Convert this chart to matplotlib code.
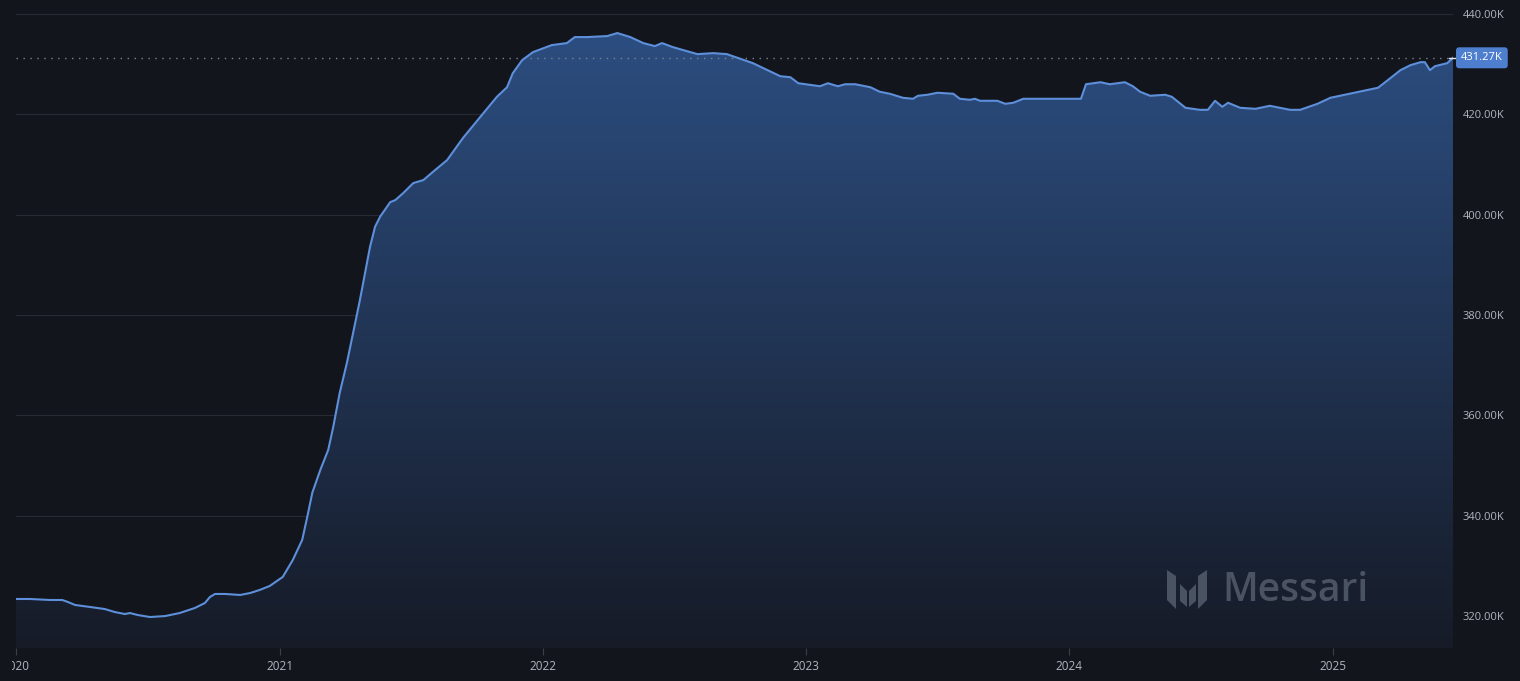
import numpy as np
import pandas as pd
import matplotlib
matplotlib.use("Agg")
import matplotlib.pyplot as plt
import matplotlib.dates as mdates
from matplotlib.colors import LinearSegmentedColormap
from matplotlib.patches import Polygon
from matplotlib.transforms import Bbox, TransformedBbox

# series values (thousands)
dates = [
    "2020-01-01", "2020-01-20", "2020-02-17", "2020-03-05", "2020-03-13", "2020-03-23",
    "2020-04-13", "2020-05-03", "2020-05-17", "2020-05-31", "2020-06-07", "2020-06-18",
    "2020-07-05", "2020-07-26", "2020-08-15", "2020-09-05", "2020-09-19", "2020-09-26",
    "2020-10-03", "2020-10-17", "2020-11-07", "2020-11-21", "2020-12-04", "2020-12-18",
    "2021-01-05", "2021-01-19", "2021-02-01", "2021-02-08", "2021-02-15", "2021-02-26",
    "2021-03-09", "2021-03-16", "2021-03-25", "2021-04-04", "2021-04-22", "2021-05-06",
    "2021-05-13", "2021-05-20", "2021-06-03", "2021-06-10", "2021-06-21", "2021-07-05",
    "2021-07-19", "2021-08-01", "2021-08-21", "2021-09-12", "2021-10-06", "2021-10-29",
    "2021-11-12", "2021-11-20", "2021-12-03", "2021-12-18", "2022-01-13", "2022-02-03",
    "2022-02-14", "2022-03-03", "2022-03-31", "2022-04-14", "2022-05-02", "2022-05-20",
    "2022-06-05", "2022-06-15", "2022-06-30", "2022-08-03", "2022-08-25", "2022-09-13",
    "2022-10-19", "2022-11-26", "2022-12-10", "2022-12-21", "2023-01-20", "2023-01-31",
    "2023-02-14", "2023-02-24", "2023-03-10", "2023-03-31", "2023-04-13", "2023-04-27",
    "2023-05-15", "2023-05-29", "2023-06-05", "2023-06-18", "2023-07-02", "2023-07-24",
    "2023-08-02", "2023-08-16", "2023-08-23", "2023-08-30", "2023-09-23", "2023-10-04",
    "2023-10-15", "2023-10-29", "2023-11-08", "2024-01-17", "2024-01-24", "2024-02-13",
    "2024-02-26", "2024-03-18", "2024-03-29", "2024-04-08", "2024-04-22", "2024-05-13",
    "2024-05-22", "2024-06-10", "2024-06-30", "2024-07-11", "2024-07-21", "2024-07-31",
    "2024-08-08", "2024-08-25", "2024-09-15", "2024-10-05", "2024-11-02", "2024-11-16",
    "2024-12-10", "2024-12-28", "2025-03-04", "2025-03-21", "2025-04-04", "2025-04-18",
    "2025-05-02", "2025-05-08", "2025-05-15", "2025-05-22", "2025-06-08", "2025-06-16",
]
values = [
    323.4, 323.4, 323.2, 323.2, 322.8, 322.2,
    321.8, 321.4, 320.8, 320.4, 320.6, 320.2,
    319.8, 320.0, 320.6, 321.6, 322.6, 323.8,
    324.4, 324.4, 324.2, 324.6, 325.2, 326.0,
    327.8, 331.2, 335.2, 339.8, 344.6, 349.1,
    353.1, 357.7, 364.5, 370.5, 383.0, 393.6,
    397.6, 399.6, 402.5, 402.9, 404.3, 406.3,
    406.9, 408.5, 410.9, 415.3, 419.5, 423.5,
    425.4, 428.2, 430.8, 432.4, 433.8, 434.2,
    435.4, 435.4, 435.6, 436.2, 435.4, 434.2,
    433.6, 434.2, 433.4, 432.0, 432.2, 432.0,
    430.2, 427.6, 427.4, 426.2, 425.6, 426.2,
    425.6, 426.0, 426.0, 425.4, 424.5, 424.1,
    423.3, 423.1, 423.7, 423.9, 424.3, 424.1,
    423.1, 422.9, 423.1, 422.7, 422.7, 422.1,
    422.3, 423.1, 423.1, 423.1, 426.0, 426.4,
    426.0, 426.4, 425.6, 424.5, 423.7, 423.9,
    423.5, 421.3, 420.9, 420.9, 422.7, 421.5,
    422.3, 421.3, 421.1, 421.7, 420.9, 420.9,
    422.1, 423.3, 425.3, 427.2, 428.8, 429.8,
    430.4, 430.4, 428.8, 429.6, 430.2, 431.27,
]
y_ticks = [320, 340, 360, 380, 400, 420, 440]
last_label = "431.27K"

BG = "#13151c"
LINE = "#5d8fda"
GRID = "#262a35"
TXT = "#b2b5be"
FONT = "Open Sans"

x = pd.to_datetime(dates)
y = np.array(values)

W, H = 1520, 681
fig = plt.figure(figsize=(W / 100, H / 100), dpi=100, facecolor=BG)
ax = fig.add_axes([16 / W, 33 / H, 1437 / W, 648 / H])
ax.set_facecolor(BG)

ymin, ymax = 313.63, 442.79
ax.set_xlim(x[0], x[-1])
ax.set_ylim(ymin, ymax)

# gradient fill under the line
cmap = LinearSegmentedColormap.from_list("g", ["#161b27", "#2d5085"])
grad = np.linspace(0, 1, 256).reshape(-1, 1)
xn = mdates.date2num(x)
img = ax.imshow(grad, aspect="auto", cmap=cmap, origin="lower",
                extent=[xn[0], xn[-1], ymin, ymax], zorder=1)
clip = Polygon(np.vstack([np.column_stack([xn, y]), [[xn[-1], ymin], [xn[0], ymin]]]),
               closed=True, transform=ax.transData, facecolor="none", edgecolor="none")
ax.add_patch(clip)
img.set_clip_path(clip)

ax.plot(x, y, color=LINE, lw=1.5, zorder=3, solid_joinstyle="round")

# last value line and tag
ax.axhline(y[-1], color="#7d828c", lw=1, ls=(0, (1, 4)), zorder=2)

for v in y_ticks:
    ax.axhline(v, color=GRID, lw=0.8, zorder=0.5)

ax.yaxis.tick_right()
ax.set_yticks(y_ticks)
ax.set_yticklabels([f"{v:.2f}K" for v in y_ticks], family=FONT)
ax.tick_params(axis="y", length=0, pad=7, colors=TXT, labelsize=8)
ax.xaxis.set_major_locator(mdates.YearLocator())
ax.xaxis.set_major_formatter(mdates.DateFormatter("%Y"))
ax.tick_params(axis="x", length=5, width=0.8, color="#3a3e48", pad=4, labelsize=8.5)
for s in ax.spines.values():
    s.set_visible(False)

fig.canvas.draw()
left_clip = TransformedBbox(Bbox([[11.5 / W, 0], [1, 1]]), fig.transFigure)
for lbl in ax.get_xticklabels():
    lbl.set_color(TXT)
    lbl.set_family(FONT)
    lbl.set_clip_box(left_clip)
    lbl.set_clip_on(True)

# connector and price tag
ax.plot([1.0 - 4 / 1437, 1.0 + 3 / 1437], [y[-1], y[-1]], color="#e0e6f0", lw=1,
        transform=ax.get_yaxis_transform(), clip_on=False, zorder=5)
ax.text(1.0 + 8 / 1437, y[-1], last_label, transform=ax.get_yaxis_transform(),
        color="white", fontsize=8, family=FONT, va="center", ha="left", zorder=6,
        bbox=dict(boxstyle="round,pad=0.45,rounding_size=0.3", fc="#4e7fce", ec="none"))

# Messari watermark
wm = "#4a5361"
def px(pts):
    return [(a / W, 1 - b / H) for a, b in pts]
for pts in [
    [(1167, 570), (1176, 576), (1176, 609), (1167, 600)],
    [(1180, 584), (1187, 591), (1187, 607), (1180, 601)],
    [(1196, 584), (1189, 591), (1189, 607), (1196, 601)],
    [(1207, 570), (1198, 576), (1198, 609), (1207, 600)],
]:
    fig.patches.append(Polygon(px(pts), closed=True, transform=fig.transFigure,
                               facecolor=wm, edgecolor="none"))
fig.text(1222 / W, 1 - 591 / H, "Messari", color=wm, fontsize=28, family=FONT,
         weight="semibold", va="center", ha="left")

fig.savefig("out.png", dpi=100, facecolor=BG)
